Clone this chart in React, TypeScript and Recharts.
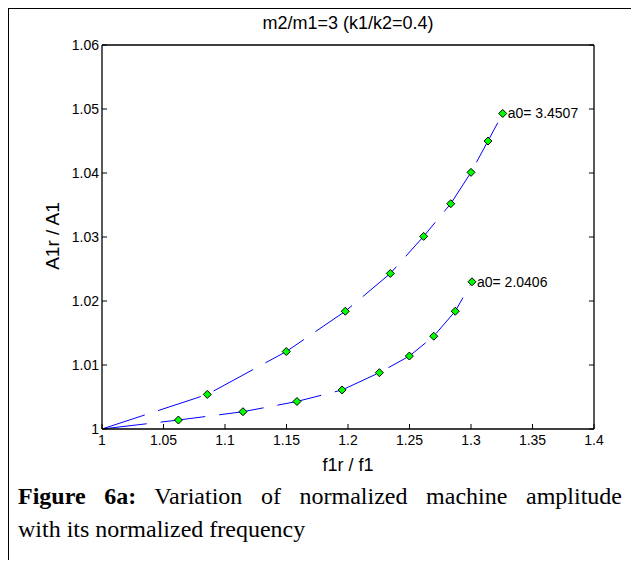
import { LineChart, Line, XAxis, YAxis, Customized } from "recharts";

// upper curve (a0 = 3.4507)
const upperX = [1, 1.0856, 1.1498, 1.1978, 1.2344, 1.2615, 1.2835, 1.3, 1.3138, 1.3258];
const upperY = [1, 1.0054, 1.0121, 1.0184, 1.0243, 1.0301, 1.0352, 1.0401, 1.045, 1.0493];
// lower curve (a0 = 2.0406)
const lowerX = [1, 1.0621, 1.1146, 1.1585, 1.1952, 1.2255, 1.2499, 1.2697, 1.2872, 1.3008];
const lowerY = [1, 1.0014, 1.0027, 1.0043, 1.0061, 1.0088, 1.0114, 1.0145, 1.0184, 1.023];

const xTicks = [1, 1.05, 1.1, 1.15, 1.2, 1.25, 1.3, 1.35, 1.4];
const yTicks = [1, 1.01, 1.02, 1.03, 1.04, 1.05, 1.06];

const upperData = upperX.map((x, i) => ({ x, y: upperY[i] }));
const lowerData = lowerX.map((x, i) => ({ x, y: lowerY[i] }));

const FONT = "'Liberation Sans', Arial, sans-serif";
const SERIF = "'Liberation Serif', 'Times New Roman', serif";
const fmt = (v: number) => String(+v.toFixed(2));

const BottomTick = (p: any) => (
  <g>
    <line x1={p.x} y1={p.y} x2={p.x} y2={p.y - 5} stroke="#000" />
    <text x={p.x} y={p.y + 16} textAnchor="middle" fontSize={14} fontFamily={FONT} fill="#000">
      {fmt(p.payload.value)}
    </text>
  </g>
);
const LeftTick = (p: any) => (
  <g>
    <line x1={p.x} y1={p.y} x2={p.x + 5} y2={p.y} stroke="#000" />
    <text x={p.x - 3} y={p.y + 5} textAnchor="end" fontSize={14} fontFamily={FONT} fill="#000">
      {fmt(p.payload.value)}
    </text>
  </g>
);
const TopTick = (p: any) => <line x1={p.x} y1={p.y} x2={p.x} y2={p.y + 5} stroke="#000" />;
const RightTick = (p: any) => <line x1={p.x} y1={p.y} x2={p.x - 5} y2={p.y} stroke="#000" />;

const Diamond = (p: any) => {
  if (p.index === 0) return <g key={p.key} />;
  const { cx, cy } = p;
  const r = 4;
  return (
    <polygon
      key={p.key}
      points={`${cx},${cy - r} ${cx + r},${cy} ${cx},${cy + r} ${cx - r},${cy}`}
      fill="#00ff00"
      stroke="#000"
      strokeWidth={1}
    />
  );
};

const endLabel = (text: string, last: number) => (p: any) => {
  if (p.index !== last) return <g key={p.key} />;
  return (
    <text key={p.key} x={p.x + 5} y={p.y + 5} fontSize={14} fontFamily={FONT} fill="#000">
      {text}
    </text>
  );
};

// figure frame (open at the bottom, like the scanned page)
const Frame = () => (
  <g>
    <rect x={6} y={6} width={3} height={562} fill="#000" />
    <rect x={6} y={6} width={631} height={3} fill="#000" />
    <rect x={634} y={6} width={3} height={562} fill="#000" />
    <text x={-5} y={194} fontSize={12} fontFamily={FONT} fill="#000">50</text>
  </g>
);

export default function App() {
  return (
    <div style={{ position: "relative", width: 639, height: 568, margin: -8, overflow: "hidden", background: "#fff" }}>
      <div style={{ position: "absolute", left: 0, top: 0 }}>
        <LineChart width={639} height={568} margin={{ top: 44, right: 44, bottom: 88, left: 0 }}>
          <XAxis
            dataKey="x"
            type="number"
            domain={[1, 1.4]}
            ticks={xTicks}
            allowDataOverflow
            height={51}
            tickSize={0}
            tickMargin={0}
            tick={BottomTick}
            axisLine={{ stroke: "#000", strokeWidth: 1.3 }}
          />
          <XAxis
            xAxisId="top"
            orientation="top"
            type="number"
            domain={[1, 1.4]}
            ticks={xTicks}
            allowDataOverflow
            height={1}
            tickSize={0}
            tickMargin={0}
            tick={TopTick}
            axisLine={{ stroke: "#000", strokeWidth: 1.3 }}
          />
          <YAxis
            type="number"
            domain={[1, 1.06]}
            ticks={yTicks}
            allowDataOverflow
            width={102}
            tickSize={0}
            tickMargin={0}
            tick={LeftTick}
            axisLine={{ stroke: "#000", strokeWidth: 1.3 }}
          />
          <YAxis
            yAxisId="right"
            orientation="right"
            type="number"
            domain={[1, 1.06]}
            ticks={yTicks}
            allowDataOverflow
            width={1}
            tickSize={0}
            tickMargin={0}
            tick={RightTick}
            axisLine={{ stroke: "#000", strokeWidth: 1.3 }}
          />
          <Line
            data={upperData}
            dataKey="y"
            type="linear"
            stroke="#0000ff"
            strokeWidth={1}
            strokeDasharray="45 14"
            dot={Diamond}
            activeDot={false}
            label={endLabel("a0= 3.4507", upperData.length - 1)}
            isAnimationActive={false}
          />
          <Line
            data={lowerData}
            dataKey="y"
            type="linear"
            stroke="#0000ff"
            strokeWidth={1}
            strokeDasharray="45 14"
            dot={Diamond}
            activeDot={false}
            label={endLabel("a0= 2.0406", lowerData.length - 1)}
            isAnimationActive={false}
          />
          <Customized component={Frame} />
        </LineChart>
      </div>
      <div
        style={{
          position: "absolute",
          left: 198,
          width: 300,
          top: 13,
          textAlign: "center",
          fontFamily: FONT,
          fontSize: 18,
          lineHeight: "20px",
        }}
      >
        m2/m1=3 (k1/k2=0.4)
      </div>
      <div
        style={{
          position: "absolute",
          left: 248,
          width: 200,
          top: 455,
          textAlign: "center",
          fontFamily: FONT,
          fontSize: 18,
          lineHeight: "20px",
        }}
      >
        f1r / f1
      </div>
      <div
        style={{
          position: "absolute",
          left: 53 - 60,
          top: 236 - 10,
          width: 120,
          textAlign: "center",
          fontFamily: FONT,
          fontSize: 19,
          lineHeight: "20px",
          transform: "rotate(-90deg)",
        }}
      >
        A1r / A1
      </div>
      <div
        style={{
          position: "absolute",
          left: 18,
          width: 604,
          top: 480,
          fontFamily: SERIF,
          fontSize: 24,
          lineHeight: "33px",
          textAlign: "justify",
          textAlignLast: "justify",
          whiteSpace: "nowrap",
        }}
      >
        <b>Figure 6a:</b> Variation of normalized machine amplitude
      </div>
      <div
        style={{
          position: "absolute",
          left: 18,
          top: 513,
          fontFamily: SERIF,
          fontSize: 24,
          lineHeight: "33px",
          whiteSpace: "nowrap",
        }}
      >
        with its normalized frequency
      </div>
    </div>
  );
}
